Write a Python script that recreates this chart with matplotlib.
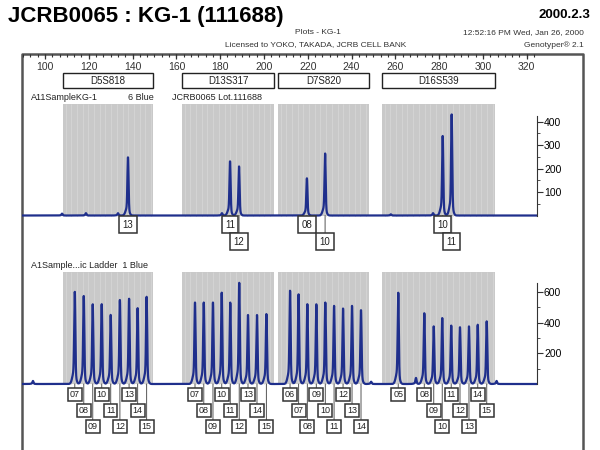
import matplotlib.pyplot as plt
import numpy as np
from matplotlib.patches import Rectangle

plt.rcParams['font.family'] = ['Liberation Sans', 'DejaVu Sans']

# loci (size ranges in bp)
markers = ['D5S818', 'D13S317', 'D7S820', 'D16S539']
marker_start = [108.2, 162.6, 206.4, 253.9]
marker_end = [149.3, 204.6, 247.9, 305.5]

# KG-1 sample, 6 Blue
sample_pos = [137.9, 184.5, 188.6, 219.6, 227.9, 281.6, 285.7]
sample_height = [250, 233, 211, 160, 267, 342, 435]
sample_alleles = ['13', '11', '12', '08', '10', '10', '11']
sample_row = [0, 0, 1, 0, 1, 0, 1]
sample_minor_pos = [107.8, 118.7, 133.3, 180.8, 257.9, 277.2]
sample_minor_height = [8, 10, 10, 10, 5, 10]

# allelic ladder, 1 Blue
ladder_pos = [113.6, 117.7, 121.8, 125.9, 130.0, 134.2, 138.4, 142.3, 146.4,
              168.5, 172.5, 176.7, 180.7, 184.6, 188.7, 192.7, 196.8, 201.1,
              211.9, 215.8, 219.8, 223.9, 228.0, 232.0, 236.1, 240.2, 244.3,
              261.3, 273.2, 277.5, 281.4, 285.5, 289.5, 293.6, 297.6, 301.7]
ladder_height = [608, 580, 526, 526, 456, 554, 562, 500, 575,
                 537, 537, 537, 602, 537, 667, 455, 455, 461,
                 615, 591, 526, 526, 537, 515, 498, 515, 487,
                 602, 467, 380, 435, 385, 374, 380, 391, 413]
ladder_alleles = ['07', '08', '09', '10', '11', '12', '13', '14', '15',
                  '07', '08', '09', '10', '11', '12', '13', '14', '15',
                  '06', '07', '08', '09', '10', '11', '12', '13', '14',
                  '05', '08', '09', '10', '11', '12', '13', '14', '15']
ladder_row = [0, 1, 2, 0, 1, 2, 0, 1, 2,
              0, 1, 2, 0, 1, 2, 0, 1, 2,
              0, 1, 2, 0, 1, 2, 0, 1, 2,
              0, 0, 1, 2, 0, 1, 2, 0, 1]
ladder_minor_pos = [94.5, 248.9, 269.4, 306.2]
ladder_minor_height = [20, 15, 40, 20]

ruler_ticks = [100, 120, 140, 160, 180, 200, 220, 240, 260, 280, 300, 320]

XMIN, XMAX = 89.5, 324.66
TRACE = '#1f2f8c'

fig = plt.figure(figsize=(6, 4.5), dpi=100)


def peaks(x, pos, height):
    y = np.zeros_like(x)
    for p, h in zip(pos, height):
        y += h * (0.86 * np.exp(-0.5 * ((x - p) / 0.25) ** 2)
                  + 0.14 * np.exp(-0.5 * ((x - p + 0.3) / 0.75) ** 2))
    return y


def panel(rect, ylim, gray_top, pos, height, minor_pos, minor_height,
          alleles, rows, offsets, spine_top, yticks, yminor, fs, pad):
    ax = fig.add_axes(rect)
    ax.set_xlim(XMIN, XMAX)
    ax.set_ylim(*ylim)
    for s, e in zip(marker_start, marker_end):
        ax.add_patch(Rectangle((s, 0), e - s, gray_top, fc='#c9c9c9', ec='none', zorder=0))
        ax.vlines(np.arange(s + 1.2, e, 2.6), 0, gray_top, color='#d3d3d3', lw=0.8, zorder=0.5)
    x = np.linspace(XMIN, XMAX, 8000)
    y = peaks(x, pos, height) + peaks(x, minor_pos, minor_height)
    ax.plot(x, y, color=TRACE, lw=1.6, zorder=2, solid_joinstyle='round')
    for p, a, r in zip(pos, alleles, rows):
        ax.annotate(a, xy=(p, 0), xytext=(0, -offsets[r]), textcoords='offset points',
                    ha='center', va='center', fontsize=fs, color='#222',
                    bbox=dict(boxstyle='square,pad=%s' % pad, fc='white', ec='#333', lw=1.1),
                    arrowprops=dict(arrowstyle='-', color='#555', lw=0.7,
                                    shrinkA=0, shrinkB=0), zorder=3)
    for sp in ['top', 'left', 'bottom']:
        ax.spines[sp].set_visible(False)
    ax.spines['right'].set_bounds(0, spine_top)
    ax.spines['right'].set_color('#333')
    ax.set_xticks([])
    ax.set_yticks(yticks)
    ax.set_yticks(yminor, minor=True)
    ax.tick_params(axis='y', which='both', left=False, labelleft=False, right=True,
                   labelright=True, direction='out', color='#333', labelsize=7.5, pad=1)
    ax.tick_params(axis='y', which='major', length=4)
    ax.tick_params(axis='y', which='minor', length=2)
    ax.patch.set_alpha(0)
    return ax


panel([22 / 600, 1 - 218 / 450, 515 / 600, 123 / 450], (-10.6, 512.8), 474,
      sample_pos, sample_height, sample_minor_pos, sample_minor_height,
      sample_alleles, sample_row, [6.5, 18.8], 425,
      [100, 200, 300, 400], [50, 150, 250, 350], 7, 0.35)

panel([22 / 600, 1 - 387 / 450, 515 / 600, 125 / 450], (-19.6, 795.8), 730,
      ladder_pos, ladder_height, ladder_minor_pos, ladder_minor_height,
      ladder_alleles, ladder_row, [7.9, 19.2, 30.8], 660,
      [200, 400, 600], [100, 300, 500], 6.5, 0.22)

# ruler with marker boxes
ar = fig.add_axes([22 / 600, 1 - 90 / 450, 515 / 600, 36 / 450])
ar.set_xlim(XMIN, XMAX)
ar.set_ylim(90, 54)
ar.axis('off')
ar.vlines(np.arange(90, 326, 10 / 3), 54, 57, color='#333', lw=0.8)
ar.vlines(ruler_ticks, 54, 59, color='#333', lw=0.9)
for v in ruler_ticks:
    ar.text(v, 66.5, str(v), ha='center', va='center', fontsize=7.5, color='#333')
for m, s, e in zip(markers, marker_start, marker_end):
    ar.add_patch(Rectangle((s, 73), e - s, 15, fc='white', ec='#222', lw=1))
    ar.text((s + e) / 2, 80.5, m, ha='center', va='center', fontsize=7, color='#222')

# frame
af = fig.add_axes([0, 0, 1, 1], zorder=-1)
af.set_xlim(0, 600)
af.set_ylim(450, 0)
af.axis('off')
af.plot([21.7, 21.7, 583, 583], [452, 54, 54, 452], color='#555', lw=1.8)

# header texts
fig.text(8 / 600, 1 - 16.5 / 450, 'JCRB0065 : KG-1 (111688)', fontsize=16,
         fontweight='bold', ha='left', va='center')
fig.text(590 / 600, 1 - 15 / 450, '2000.2.3', fontsize=9.5, fontweight='bold',
         ha='right', va='center')
fig.text(318 / 600, 1 - 33 / 450, 'Plots - KG-1', fontsize=6, color='#333',
         ha='center', va='center')
fig.text(316 / 600, 1 - 45 / 450, 'Licensed to YOKO, TAKADA, JCRB CELL BANK', fontsize=6,
         color='#333', ha='center', va='center')
fig.text(584 / 600, 1 - 33 / 450, '12:52:16 PM Wed, Jan 26, 2000', fontsize=6,
         color='#333', ha='right', va='center')
fig.text(584 / 600, 1 - 45 / 450, 'Genotyper\u00ae 2.1', fontsize=6, color='#333',
         ha='right', va='center')

fig.text(31 / 600, 1 - 97 / 450, 'A11SampleKG-1', fontsize=6.5, color='#222', va='center')
fig.text(128 / 600, 1 - 97 / 450, '6 Blue', fontsize=6.5, color='#222', va='center')
fig.text(172 / 600, 1 - 97 / 450, 'JCRB0065 Lot.111688', fontsize=6.5, color='#222', va='center')
fig.text(31 / 600, 1 - 266 / 450, 'A1Sample...ic Ladder  1 Blue', fontsize=6.5,
         color='#222', va='center')

fig.savefig('out.png', dpi=100)
